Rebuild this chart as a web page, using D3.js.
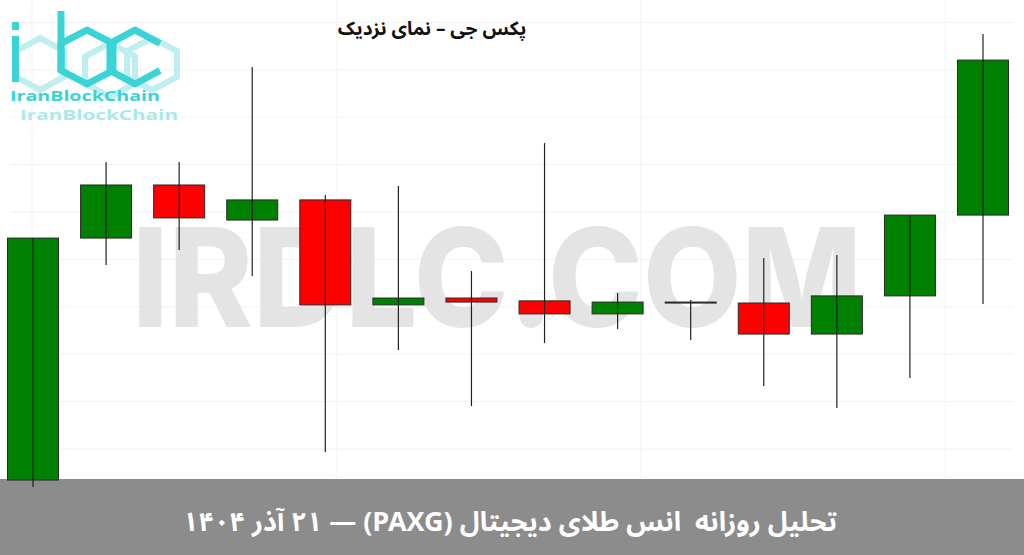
<!DOCTYPE html>
<html>
<head>
<meta charset="utf-8">
<script src="https://cdn.jsdelivr.net/npm/d3@7"></script>
<style>
  body { margin: 0; background: #fff; overflow: hidden; }
  svg { display: block; }
</style>
</head>
<body>
<div id="chart"></div>
<script>
// daily candles, PAXG (close view)
var dates  = ["2025-11-29","2025-11-30","2025-12-01","2025-12-02","2025-12-03","2025-12-04","2025-12-05",
              "2025-12-06","2025-12-07","2025-12-08","2025-12-09","2025-12-10","2025-12-11","2025-12-12"];
var openP  = [4086.9, 4189.0, 4211.4, 4196.6, 4205.1, 4160.8, 4163.7, 4162.5, 4157.0, 4162.0, 4161.6, 4148.5, 4164.6, 4198.7];
var highP  = [4189.0, 4221.1, 4221.1, 4261.2, 4207.2, 4211.0, 4175.1, 4229.1, 4165.8, 4162.9, 4180.6, 4181.9, 4198.7, 4275.1];
var lowP   = [4084.0, 4177.6, 4184.0, 4173.0, 4098.7, 4141.8, 4118.1, 4144.7, 4150.6, 4146.0, 4126.6, 4117.3, 4130.0, 4161.2];
var closeP = [4189.0, 4211.4, 4197.5, 4205.1, 4160.8, 4163.7, 4162.0, 4157.0, 4162.0, 4162.0, 4148.5, 4164.6, 4198.7, 4264.1];
var gridTicks = [4100, 4120, 4140, 4160, 4180, 4200, 4220, 4240, 4260, 4280];

var titleText  = "پکس جی – نمای نزدیک";
var bannerText = "تحلیل روزانه  انس طلای دیجیتال (PAXG) — ۲۱ آذر ۱۴۰۴";
var watermark  = "IRDLC.COM";
var brandName  = "IranBlockChain";

var W = 1024, H = 555;
var candles = dates.map(function(d, i) {
  return {date: d, o: openP[i], h: highP[i], l: lowP[i], c: closeP[i]};
});

var svg = d3.select("#chart").append("svg")
  .attr("width", W)
  .attr("height", H);

var x = d3.scalePoint().domain(dates).range([33, 983]);
var y = d3.scaleLinear().domain([4100, 4280]).range([449, 22.4]);
var bodyW = 51;

// faint grid
var grid = svg.append("g");
grid.selectAll("line.h")
  .data(gridTicks)
  .enter().append("line")
    .attr("class", "h")
    .attr("x1", 10).attr("x2", 1013)
    .attr("y1", function(d) { return y(d); })
    .attr("y2", function(d) { return y(d); })
    .attr("stroke", "#f1f1f1");
var vx = d3.scaleLinear().domain([0, 3]).range([32, 945]);
grid.selectAll("line.v")
  .data(d3.range(4))
  .enter().append("line")
    .attr("class", "v")
    .attr("x1", function(d) { return vx(d); })
    .attr("x2", function(d) { return vx(d); })
    .attr("y1", 0).attr("y2", 478)
    .attr("stroke", "#f3f3f3");

// watermark
svg.append("text")
  .attr("x", 132).attr("y", 327)
  .attr("textLength", 730)
  .attr("lengthAdjust", "spacingAndGlyphs")
  .style("font-family", "Inter, 'Open Sans', sans-serif")
  .style("font-weight", 800)
  .style("font-size", "137px")
  .style("fill", "#e4e4e4")
  .text(watermark);

// logo (top-left)
var logo = svg.append("g");
function hexPts(cx, cy, w, h) {
  return [[cx + w/2, cy - h/4], [cx, cy - h/2], [cx - w/2, cy - h/4],
          [cx - w/2, cy + h/4], [cx, cy + h/2], [cx + w/2, cy + h/4]];
}
var line = d3.line();
var pale = "#bfeef0", cyan = "#3ad3d6";
[[40, 64, 48, 52], [110, 70, 50, 54], [152, 64, 50, 52]].forEach(function(p) {
  logo.append("path")
    .attr("d", line(hexPts(p[0], p[1], p[2], p[3])) + "Z")
    .attr("fill", "none").attr("stroke", pale).attr("stroke-width", 6);
});
logo.append("rect").attr("x", 12).attr("y", 22).attr("width", 7).attr("height", 8).attr("fill", cyan);
logo.append("rect").attr("x", 12).attr("y", 36).attr("width", 7).attr("height", 46).attr("fill", cyan);
logo.append("line").attr("x1", 61).attr("x2", 61).attr("y1", 11).attr("y2", 72)
  .attr("stroke", cyan).attr("stroke-width", 7);
logo.append("path")
  .attr("d", line(hexPts(87, 57, 52, 54)) + "Z")
  .attr("fill", "none").attr("stroke", cyan).attr("stroke-width", 7).attr("stroke-linejoin", "round");
logo.append("path")
  .attr("d", line(hexPts(135, 57, 50, 54)))
  .attr("fill", "none").attr("stroke", cyan).attr("stroke-width", 7).attr("stroke-linejoin", "round");
logo.append("text")
  .attr("x", 10).attr("y", 101)
  .attr("textLength", 150)
  .attr("lengthAdjust", "spacingAndGlyphs")
  .style("font-family", "'Open Sans', sans-serif")
  .style("font-weight", 700)
  .style("font-size", "15px")
  .style("fill", cyan)
  .text(brandName);
logo.append("text")
  .attr("x", 20).attr("y", 120)
  .attr("textLength", 158)
  .attr("lengthAdjust", "spacingAndGlyphs")
  .style("font-family", "'Open Sans', sans-serif")
  .style("font-weight", 700)
  .style("font-size", "14px")
  .style("fill", "#a9e9eb")
  .text(brandName);

// title
svg.append("text")
  .attr("x", 432).attr("y", 35)
  .attr("text-anchor", "middle")
  .attr("direction", "rtl")
  .style("font-family", "'Noto Sans Arabic', 'DejaVu Sans', sans-serif")
  .style("font-weight", 700)
  .style("font-size", "19px")
  .style("fill", "#111")
  .text(titleText);

// bottom banner
svg.append("rect")
  .attr("x", 0).attr("y", 479)
  .attr("width", W).attr("height", H - 479)
  .attr("fill", "#8c8c8c");
svg.append("text")
  .attr("x", 510).attr("y", 531)
  .attr("text-anchor", "middle")
  .attr("direction", "rtl")
  .style("white-space", "pre")
  .style("font-family", "'Noto Sans Arabic', 'DejaVu Sans', sans-serif")
  .style("font-weight", 700)
  .style("font-size", "27px")
  .style("fill", "#fff")
  .text(bannerText);

// candles
var cg = svg.append("g");
cg.selectAll("rect.body")
  .data(candles)
  .enter().append("rect")
    .attr("class", "body")
    .attr("x", function(d) { return x(d.date) - bodyW / 2; })
    .attr("y", function(d) { return y(Math.max(d.o, d.c)); })
    .attr("width", bodyW)
    .attr("height", function(d) { return Math.max(1, Math.abs(y(d.o) - y(d.c))); })
    .attr("fill", function(d) { return d.c >= d.o ? "#008000" : "#ff0000"; })
    .attr("stroke", "#2a2a2a")
    .attr("stroke-width", 1);
cg.selectAll("line.wick")
  .data(candles)
  .enter().append("line")
    .attr("class", "wick")
    .attr("x1", function(d) { return x(d.date); })
    .attr("x2", function(d) { return x(d.date); })
    .attr("y1", function(d) { return y(d.h); })
    .attr("y2", function(d) { return y(d.l); })
    .attr("stroke", "#222")
    .attr("stroke-width", 1.2);
</script>
</body>
</html>
